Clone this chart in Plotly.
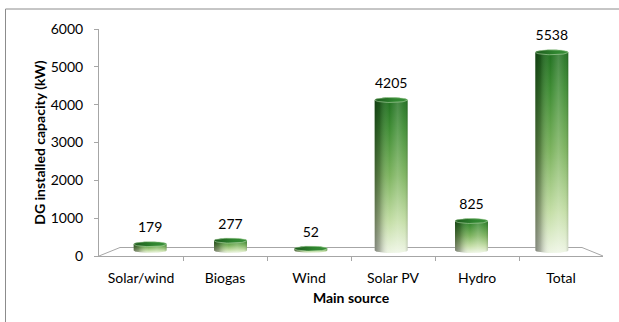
import numpy as np
import plotly.graph_objects as go

# Installed distributed-generation capacity by main source (kW)
sources = ["Solar/wind", "Biogas", "Wind", "Solar PV", "Hydro", "Total"]
capacity_kw = [179, 277, 52, 4205, 825, 5538]
y_ticks = [0, 1000, 2000, 3000, 4000, 5000, 6000]

W, H = 619, 322
FONT = "Lato"
GRID = "#a6a6a6"


def px_x(p):
    return p / W


def px_y(p):
    return 1 - p / H


# pixel geometry of the pseudo-3D frame
AX_L, AX_R, AX_B, AX_T = 99, 603, 256, 29      # front axes
BK_L, BK_R, BK_B = 120, 582, 247.5             # back edge of the floor
BAR_L, BAR_R = 110, 592                        # mid-depth row holding the cylinders
BAR_BASE, BAR_SCALE = 250.5, 0.0358            # px of zero, px per kW on that row
Y2_MIN, Y2_MAX = -300, 6000

bar_w = 0.41          # cylinder width in category units
ry = 2.5 / BAR_SCALE  # half-height of the elliptical ends, in kW units
rx = bar_w / 2

fig = go.Figure()

# empty trace so the front axes are drawn
fig.add_trace(go.Scatter(x=[None], y=[None], xaxis="x", yaxis="y",
                         mode="markers", hoverinfo="skip", showlegend=False))

for i, v in enumerate(capacity_kw):
    t_top = np.linspace(np.pi, 0, 40)
    t_bot = np.linspace(0, -np.pi, 40)
    xs = np.concatenate([i + rx * np.cos(t_top), i + rx * np.cos(t_bot)])
    ys = np.concatenate([v + ry * np.sin(t_top), ry * np.sin(t_bot)])
    xs = np.append(xs, xs[0])
    ys = np.append(ys, ys[0])

    # body: dark green at the top fading to pale at the base
    fig.add_trace(go.Scatter(
        x=xs, y=ys, xaxis="x2", yaxis="y2", mode="lines",
        line=dict(width=0), fill="toself",
        fillgradient=dict(type="vertical", colorscale=[
            [0.0, "#eef5e4"], [0.2, "#c4dea6"], [0.5, "#7cb35e"],
            [0.8, "#3f8d34"], [1.0, "#1f6e1f"]]),
        hoverinfo="skip", showlegend=False))

    # side shading giving the round look
    fig.add_trace(go.Scatter(
        x=xs, y=ys, xaxis="x2", yaxis="y2", mode="lines",
        line=dict(width=0), fill="toself",
        fillgradient=dict(type="horizontal", colorscale=[
            [0.0, "rgba(0,0,0,0.45)"], [0.15, "rgba(0,0,0,0.28)"],
            [0.45, "rgba(255,255,255,0.0)"], [0.7, "rgba(255,255,255,0.18)"],
            [0.9, "rgba(255,255,255,0.05)"], [1.0, "rgba(0,0,0,0.15)"]]),
        hoverinfo="skip", showlegend=False))

    # top cap
    t = np.linspace(0, 2 * np.pi, 60)
    fig.add_trace(go.Scatter(
        x=i + rx * np.cos(t), y=v + ry * np.sin(t), xaxis="x2", yaxis="y2",
        mode="lines", line=dict(width=0.8, color="rgba(190,225,180,0.7)"),
        fill="toself",
        fillgradient=dict(type="horizontal", colorscale=[
            [0.0, "#1c5a1c"], [0.6, "#2f852f"], [1.0, "#3a8f3a"]]),
        hoverinfo="skip", showlegend=False))

# value labels above each cylinder
fig.add_trace(go.Scatter(
    x=list(range(len(sources))), y=capacity_kw, xaxis="x2", yaxis="y2",
    mode="markers+text", text=[str(v) for v in capacity_kw],
    textposition="top center",
    marker=dict(size=12, color="rgba(0,0,0,0)"),
    textfont=dict(family=FONT, size=14, color="#000000"),
    cliponaxis=False, hoverinfo="skip", showlegend=False))

shapes = [
    # chart border (top and left edges)
    dict(type="line", xref="paper", yref="paper",
         x0=px_x(5.5), y0=px_y(9), x1=1.0, y1=px_y(9),
         line=dict(color="#8c8c8c", width=1)),
    dict(type="line", xref="paper", yref="paper",
         x0=px_x(5.5), y0=px_y(9), x1=px_x(5.5), y1=0,
         line=dict(color="#8c8c8c", width=1)),
    # floor outline
    dict(type="path", xref="paper", yref="paper", layer="below",
         path=(f"M {px_x(AX_L)} {px_y(AX_B)} L {px_x(BK_L)} {px_y(BK_B)} "
               f"L {px_x(BK_R)} {px_y(BK_B)} L {px_x(AX_R)} {px_y(AX_B)}"),
         line=dict(color=GRID, width=1)),
]

fig.update_layout(
    width=W, height=H,
    margin=dict(l=0, r=0, t=0, b=0),
    paper_bgcolor="white", plot_bgcolor="rgba(0,0,0,0)",
    font=dict(family=FONT, size=14, color="#000000"),
    shapes=shapes,
    xaxis=dict(
        domain=[px_x(AX_L), px_x(AX_R)], range=[-0.5, len(sources) - 0.5],
        anchor="y", tickmode="array", tickvals=list(range(len(sources))),
        ticktext=sources, ticks="", showgrid=False, zeroline=False,
        showline=True, linecolor=GRID, linewidth=1,
        ticklabelstandoff=9, automargin=False,
        minor=dict(tickmode="array",
                   tickvals=[k - 0.5 for k in range(1, len(sources))],
                   ticks="outside", ticklen=4, tickcolor=GRID, showgrid=False),
        title=dict(text="<b>Main source</b>", font=dict(size=14), standoff=8),
        fixedrange=True),
    yaxis=dict(
        domain=[px_y(AX_B), px_y(AX_T)], range=[0, 6000], anchor="x",
        tickmode="array", tickvals=y_ticks, ticks="outside", ticklen=4,
        tickcolor=GRID, showgrid=False, zeroline=False,
        showline=True, linecolor=GRID, linewidth=1, ticklabelstandoff=8,
        automargin=False,
        title=dict(text="<b>DG installed capacity (kW)</b>",
                   font=dict(size=14), standoff=1),
        fixedrange=True),
    xaxis2=dict(
        domain=[px_x(BAR_L), px_x(BAR_R)], range=[-0.5, len(sources) - 0.5],
        anchor="y2", visible=False, fixedrange=True),
    yaxis2=dict(
        domain=[px_y(BAR_BASE - Y2_MIN * BAR_SCALE),
                px_y(BAR_BASE - Y2_MAX * BAR_SCALE)],
        range=[Y2_MIN, Y2_MAX], anchor="x2", visible=False, fixedrange=True),
)

fig.write_html("out.html")
